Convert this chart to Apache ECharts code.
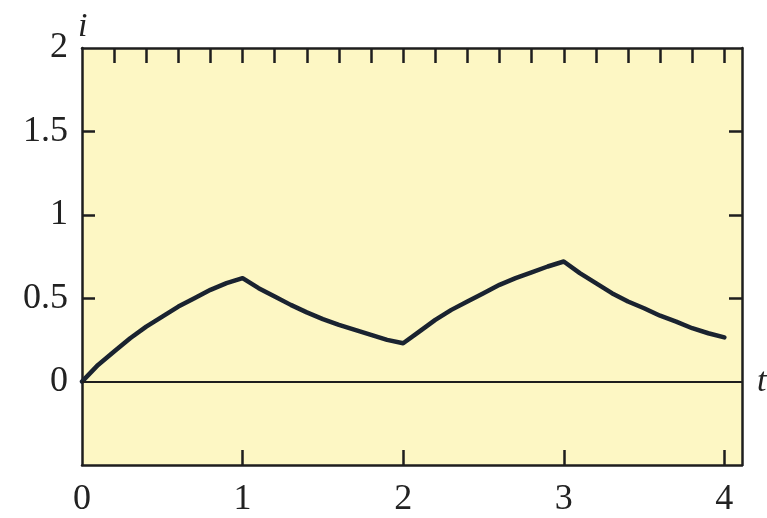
<!DOCTYPE html>
<html>
<head>
<meta charset="utf-8">
<script src="https://cdn.jsdelivr.net/npm/echarts@6/dist/echarts.min.js"></script>
<style>
html,body{margin:0;padding:0;background:#fff;}
#chart{width:767px;height:518px;}
</style>
</head>
<body>
<div id="chart"></div>
<script>
// Time samples (t) and current readings (i)
var tValues = [0,0.1,0.2,0.3,0.4,0.5,0.6,0.7,0.8,0.9,1.0,
  1.1,1.2,1.3,1.4,1.5,1.6,1.7,1.8,1.9,2.0,
  2.1,2.2,2.3,2.4,2.5,2.6,2.7,2.8,2.9,3.0,
  3.1,3.2,3.3,3.4,3.5,3.6,3.7,3.8,3.9,4.0];
var iValues = [0,0.10,0.18,0.26,0.33,0.39,0.45,0.50,0.55,0.59,0.62,
  0.56,0.51,0.46,0.415,0.375,0.34,0.31,0.28,0.25,0.23,
  0.30,0.37,0.43,0.48,0.53,0.58,0.62,0.655,0.69,0.72,
  0.65,0.59,0.53,0.48,0.44,0.395,0.36,0.32,0.29,0.265];
var xTickLabels = [0,1,2,3,4];
var xBottomTicks = [1,2,3,4];
var xTopTicks = [0.2,0.4,0.6,0.8,1.0,1.2,1.4,1.6,1.8,2.0,2.2,2.4,2.6,2.8,3.0,3.2,3.4,3.6,3.8,4.0];
var yTickLabels = [0,0.5,1,1.5,2];
var ySideTicks = [0.5,1,1.5];

var data = tValues.map(function(t, k){ return [t, iValues[k]]; });
var axisCol = '#1e1e1e';
var labelFont = {fontFamily:'Liberation Serif', fontSize:36, color:'#222'};

var chart = echarts.init(document.getElementById('chart'), null, {renderer:'canvas'});
chart.setOption({
  animation:false,
  backgroundColor:'#ffffff',
  grid:{left:82, right:25, top:48, bottom:49, show:true, backgroundColor:'#fdf7c4', borderWidth:0},
  xAxis:[{
    type:'value', position:'bottom', min:0, max:4.11,
    axisLine:{show:true, onZero:false, lineStyle:{color:axisCol, width:2.5}},
    axisTick:{show:true, inside:true, length:15, customValues:xBottomTicks, lineStyle:{color:axisCol, width:2.5}},
    axisLabel:{show:true, customValues:xTickLabels, margin:17, fontFamily:labelFont.fontFamily, fontSize:labelFont.fontSize, color:labelFont.color},
    splitLine:{show:false}
  },{
    type:'value', position:'top', min:0, max:4.11,
    axisLine:{show:true, onZero:false, lineStyle:{color:axisCol, width:2.5}},
    axisTick:{show:true, inside:true, length:15, customValues:xTopTicks, lineStyle:{color:axisCol, width:2.5}},
    axisLabel:{show:false},
    splitLine:{show:false}
  }],
  yAxis:[{
    type:'value', position:'left', min:-0.5, max:2, interval:0.5,
    name:'i', nameLocation:'end', nameGap:4,
    nameTextStyle:{fontFamily:'Liberation Serif', fontStyle:'italic', fontSize:34, color:'#222', align:'left', padding:[0,0,0,-4]},
    axisLine:{show:true, onZero:false, lineStyle:{color:axisCol, width:2.5}},
    axisTick:{show:true, inside:true, length:13, customValues:ySideTicks, lineStyle:{color:axisCol, width:2.5}},
    axisLabel:{show:true, customValues:yTickLabels, margin:14, fontFamily:labelFont.fontFamily, fontSize:labelFont.fontSize, color:labelFont.color},
    splitLine:{show:false}
  },{
    type:'value', position:'right', min:-0.5, max:2, interval:0.5,
    axisLine:{show:true, onZero:false, lineStyle:{color:axisCol, width:2.5}},
    axisTick:{show:true, inside:true, length:13, customValues:ySideTicks, lineStyle:{color:axisCol, width:2.5}},
    axisLabel:{show:false},
    splitLine:{show:false}
  }],
  series:[{
    type:'line', xAxisIndex:0, yAxisIndex:0,
    data:data, symbol:'none', smooth:false,
    lineStyle:{color:'#1a2330', width:4.5, join:'round', cap:'round'},
    markLine:{
      silent:true, symbol:['none','none'],
      lineStyle:{color:'#1e1e1e', width:2, type:'solid'},
      label:{show:true, position:'end', formatter:'t', distance:15,
        fontFamily:'Liberation Serif', fontStyle:'italic', fontSize:34, color:'#222'},
      data:[{yAxis:0}]
    }
  }]
});
</script>
</body>
</html>
